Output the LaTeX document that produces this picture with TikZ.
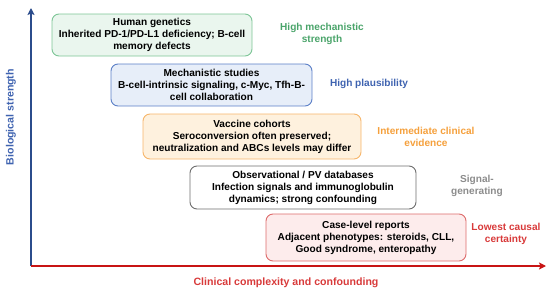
\documentclass[tikz,border=0pt]{standalone}
\usepackage{fontspec}
\setmainfont{Liberation Sans}
\usetikzlibrary{arrows.meta}
\definecolor{gnline}{HTML}{7CC596}
\definecolor{gnfill}{HTML}{EAF6EE}
\definecolor{gntext}{HTML}{4AA46A}
\definecolor{blline}{HTML}{5B7FC7}
\definecolor{blfill}{HTML}{E7EEF9}
\definecolor{bltext}{HTML}{3F63B0}
\definecolor{orline}{HTML}{F6B56A}
\definecolor{orfill}{HTML}{FEF1DE}
\definecolor{ortext}{HTML}{F5A03C}
\definecolor{gyline}{HTML}{6E6E6E}
\definecolor{gytext}{HTML}{8C8C8C}
\definecolor{rdline}{HTML}{DD6B6B}
\definecolor{rdfill}{HTML}{FDECEC}
\definecolor{rdtext}{HTML}{D83A3A}
\definecolor{yaxis}{HTML}{2B4C8C}
\definecolor{xaxis}{HTML}{C81414}
\tikzset{
  evbox/.style={draw, rounded corners=7pt, line width=0.9pt, align=center,
    font=\bfseries\fontsize{10.1}{12}\selectfont, inner sep=0pt},
  tierlabel/.style={align=center, font=\bfseries\fontsize{10.1}{12}\selectfont},
  axislabel/.style={font=\bfseries\fontsize{10.6}{12}\selectfont}
}
\begin{document}
\begin{tikzpicture}[x=1pt,y=-1pt]
    \useasboundingbox (0,0) rectangle (550,295);

    % Axes
    \coordinate (origin) at (31,266);
    \coordinate (ytip) at (31,8);
    \coordinate (xtip) at (546,266);
    \draw[-{Stealth[length=7pt,width=7pt,inset=1.5pt]}, yaxis, line width=1.6pt] (origin) -- (ytip);
    \draw[-{Stealth[length=7pt,width=7pt,inset=1.5pt]}, xaxis, line width=1.6pt] (origin) -- (xtip);
    \node[axislabel, rotate=90, text=bltext] (ylabel) at (11,117) {Biological strength};
    \node[axislabel, text=rdtext] (xlabel) at (286,283) {Clinical complexity and confounding};

    % Evidence tiers
    \node[evbox, draw=gnline, fill=gnfill, minimum width=200pt, minimum height=42pt] (genetics) at (152,35)
        {Human genetics\\Inherited PD-1/PD-L1 deficiency; B-cell\\memory defects};
    \node[evbox, draw=blline, fill=blfill, minimum width=201pt, minimum height=42pt] (mechanistic) at (211.5,85)
        {Mechanistic studies\\B-cell-intrinsic signaling, c-Myc, Tfh-B-\\cell collaboration};
    \node[evbox, draw=orline, fill=orfill, minimum width=218pt, minimum height=45pt] (vaccine) at (252,136.5)
        {Vaccine cohorts\\Seroconversion often preserved;\\neutralization and ABCs levels may differ};
    \node[evbox, draw=gyline, fill=white, minimum width=226pt, minimum height=43pt] (observational) at (303,187.5)
        {Observational / PV databases\\Infection signals and immunoglobulin\\dynamics; strong confounding};
    \node[evbox, draw=rdline, fill=rdfill, minimum width=200pt, minimum height=47pt] (caselevel) at (366,237.5)
        {Case-level reports\\Adjacent phenotypes: steroids, CLL,\\Good syndrome, enteropathy};

    % Tier labels
    \node[tierlabel, text=gntext] (strength) at (322,34) {High mechanistic\\strength};
    \node[tierlabel, text=bltext] (plausibility) at (369,84) {High plausibility};
    \node[tierlabel, text=ortext] (intermediate) at (426,137) {Intermediate clinical\\evidence};
    \node[tierlabel, text=gytext] (signal) at (477,186) {Signal-\\generating};
    \node[tierlabel, text=rdtext] (lowest) at (506,234) {Lowest causal\\certainty};
\end{tikzpicture}
\end{document}
